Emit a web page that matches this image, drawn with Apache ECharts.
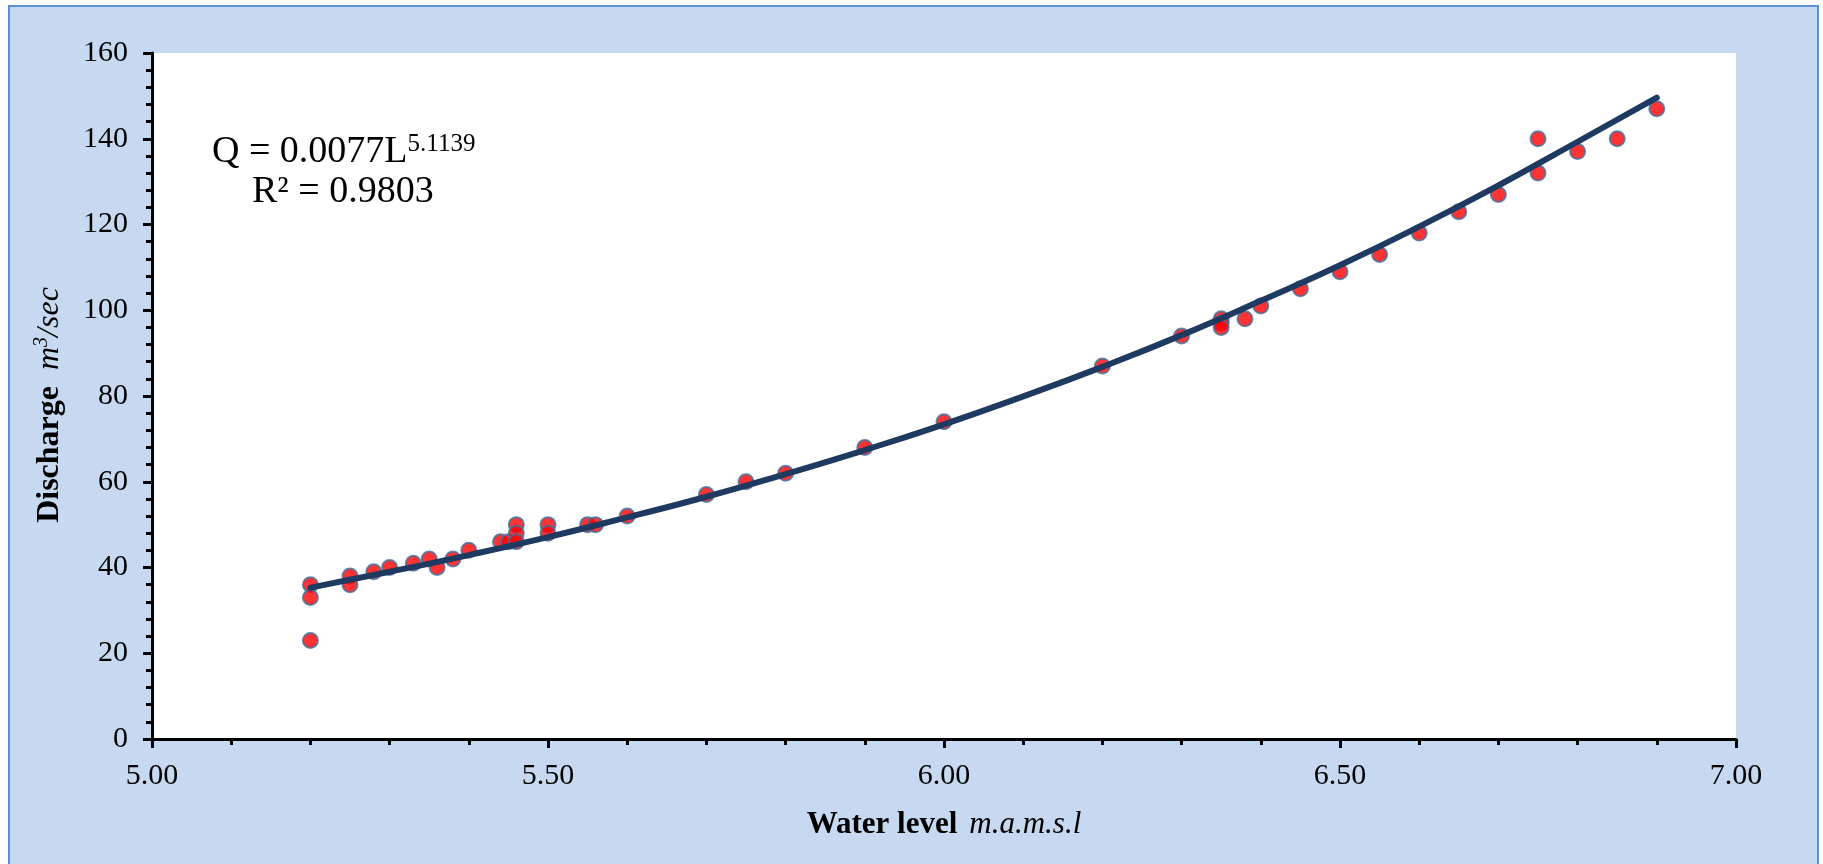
<!DOCTYPE html>
<html>
<head>
<meta charset="utf-8">
<style>
  html, body { margin: 0; padding: 0; background: #ffffff; }
  #chart { width: 1823px; height: 864px; }
</style>
<script src="https://cdn.jsdelivr.net/npm/echarts@6/dist/echarts.min.js"></script>
</head>
<body>
<div id="chart"></div>
<script>
// Observed stage-discharge points
const levels = [5.20,5.20,5.20,5.25,5.25,5.28,5.30,5.33,5.35,5.36,5.38,5.40,5.44,5.45,5.46,5.46,5.46,5.50,5.50,5.55,5.56,5.60,5.70,5.75,5.80,5.90,6.00,6.20,6.30,6.35,6.35,6.35,6.38,6.40,6.45,6.50,6.55,6.60,6.65,6.70,6.75,6.75,6.80,6.85,6.90];
const discharge = [36,33,23,38,36,39,40,41,42,40,42,44,46,46,50,48,46,50,48,50,50,52,57,60,62,68,74,87,94,98,97,96,98,101,105,109,113,118,123,127,140,132,137,140,147];

// Trend line
const trendLevels = [5.2,5.3,5.4,5.5,5.6,5.7,5.8,5.9,6.0,6.1,6.2,6.3,6.4,6.5,6.6,6.7,6.8,6.9];
const trendQ = [35.3,39.0,42.9,47.1,51.7,56.5,61.8,67.4,73.4,79.9,86.8,94.2,102.2,110.5,119.5,129.1,139.3,149.6];

const equationText = 'Q = 0.0077L';
const equationExp = '5.1139';
const r2Text = 'R² = 0.9803';

const serif = '"Liberation Serif", "Times New Roman", serif';

const chart = echarts.init(document.getElementById('chart'), null, { renderer: 'canvas' });

const scatterData = levels.map((v, i) => [v, discharge[i]]);
const trendData = trendLevels.map((v, i) => [v, trendQ[i]]);

const option = {
  animation: false,
  backgroundColor: '#ffffff',
  graphic: [
    {
      type: 'rect',
      z: -100,
      shape: { x: 9, y: 6, width: 1809, height: 880 },
      style: { fill: '#c6d9f1', stroke: '#5b8fd6', lineWidth: 2 }
    },
    {
      type: 'text',
      z: 100,
      left: 212,
      top: 127,
      style: {
        text: '{a|' + equationText + '}{s|' + equationExp + '}',
        fontFamily: serif,
        fill: '#000',
        rich: {
          a: { fontFamily: serif, fontSize: 38, lineHeight: 44, verticalAlign: 'bottom', fill: '#000' },
          s: { fontFamily: serif, fontSize: 25, lineHeight: 44, verticalAlign: 'top', padding: [5, 0, 0, 0], fill: '#000' }
        }
      }
    },
    {
      type: 'text',
      z: 100,
      left: 252,
      top: 170,
      style: {
        text: r2Text,
        fontFamily: serif,
        fontSize: 38,
        lineHeight: 44,
        fill: '#000'
      }
    }
  ],
  grid: {
    left: 152,
    right: 87,
    top: 53,
    bottom: 125,
    show: true,
    backgroundColor: '#ffffff',
    borderWidth: 0
  },
  xAxis: {
    type: 'value',
    min: 5,
    max: 7,
    interval: 0.5,
    name: '{b|Water level}{i|m.a.m.s.l}',
    nameLocation: 'middle',
    nameGap: 70,
    nameTextStyle: {
      rich: {
        b: { fontFamily: serif, fontSize: 31, fontWeight: 'bold', color: '#000' },
        i: { fontFamily: serif, fontSize: 31, fontStyle: 'italic', color: '#000', padding: [0, 0, 0, 12] }
      }
    },
    axisLine: { show: true, onZero: false, lineStyle: { color: '#000', width: 3 } },
    axisTick: { show: true, inside: false, length: 9, lineStyle: { color: '#000', width: 3 } },
    minorTick: { show: true, splitNumber: 5, length: 6, lineStyle: { color: '#000', width: 3 } },
    splitLine: { show: false },
    minorSplitLine: { show: false },
    axisLabel: {
      fontFamily: serif,
      fontSize: 30,
      color: '#000',
      margin: 22,
      formatter: v => v.toFixed(2)
    }
  },
  yAxis: {
    type: 'value',
    min: 0,
    max: 160,
    interval: 20,
    name: '{b|Discharge}{i|m}{sup|3}{e|/sec}',
    nameLocation: 'middle',
    nameGap: 86,
    nameTextStyle: {
      rich: {
        b: { fontFamily: serif, fontSize: 32, fontWeight: 'bold', color: '#000', lineHeight: 36, verticalAlign: 'bottom' },
        i: { fontFamily: serif, fontSize: 32, fontStyle: 'italic', color: '#000', lineHeight: 36, verticalAlign: 'bottom', padding: [0, 0, 0, 16] },
        sup: { fontFamily: serif, fontSize: 20, fontStyle: 'italic', color: '#000', lineHeight: 36, verticalAlign: 'top', padding: [2, 0, 0, 0] },
        e: { fontFamily: serif, fontSize: 32, fontStyle: 'italic', color: '#000', lineHeight: 36, verticalAlign: 'bottom', padding: [0, 18, 0, 0] }
      }
    },
    axisLine: { show: true, onZero: false, lineStyle: { color: '#000', width: 3 } },
    axisTick: { show: true, inside: false, length: 9, lineStyle: { color: '#000', width: 3 } },
    minorTick: { show: true, splitNumber: 5, length: 6, lineStyle: { color: '#000', width: 3 } },
    splitLine: { show: false },
    minorSplitLine: { show: false },
    axisLabel: {
      fontFamily: serif,
      fontSize: 30,
      color: '#000',
      margin: 24
    }
  },
  series: [
    {
      type: 'scatter',
      data: scatterData,
      symbol: 'circle',
      symbolSize: 15,
      z: 2,
      itemStyle: { color: '#ff0000', borderColor: '#41719c', borderWidth: 2 }
    },
    {
      type: 'line',
      data: trendData,
      smooth: true,
      showSymbol: false,
      symbol: 'none',
      z: 3,
      lineStyle: { color: '#1f3a60', width: 6, cap: 'round' }
    }
  ]
};

chart.setOption(option);
</script>
</body>
</html>
